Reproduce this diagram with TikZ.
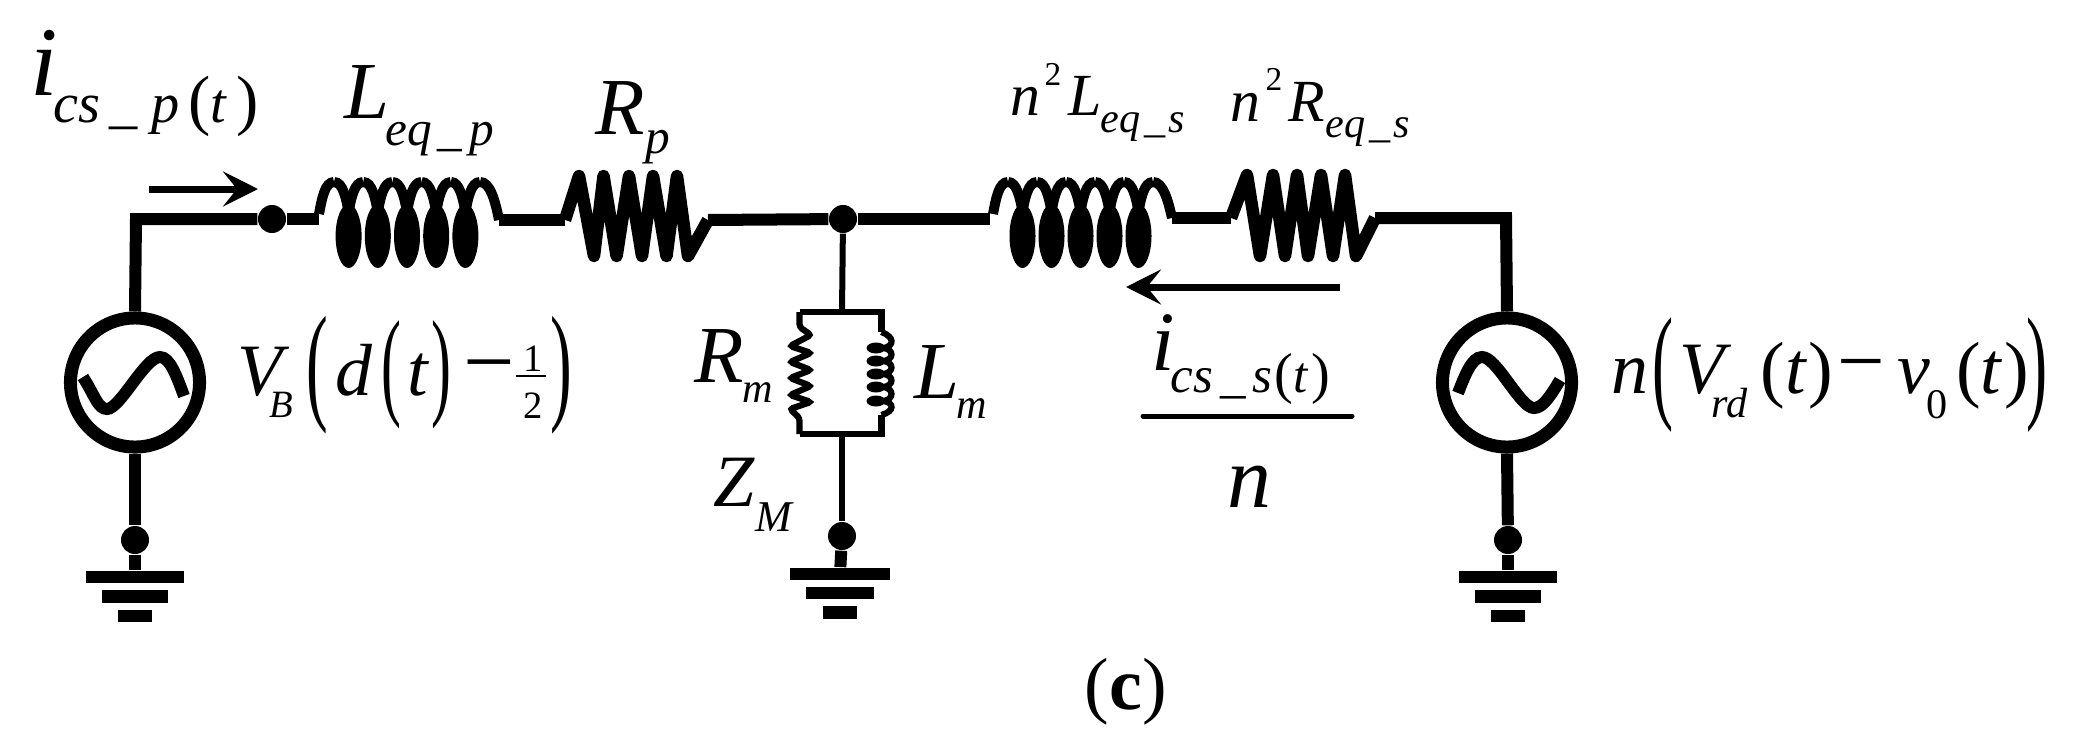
\documentclass[tikz,border=0pt]{standalone}
\usepackage{fontspec}
\setmainfont{Liberation Serif}
\usetikzlibrary{arrows.meta}
% text sizes are in pt, positions in reference pixels
\newcommand{\itsz}[2]{{\fontsize{#1}{#1}\selectfont\textit{#2}}}
\newcommand{\rmsz}[2]{{\fontsize{#1}{#1}\selectfont #2}}
\newcommand{\tallbr}[2]{\scalebox{.5}[1]{\fontsize{#1}{#1}\selectfont #2}}
\tikzset{
    wire/.style={line width=0.12cm,line join=miter},
    thinwire/.style={line width=0.06cm},
    legwire/.style={line width=0.062cm},
    coilline/.style={line width=0.1cm},
    zigline/.style={line width=0.125cm,line join=round},
    bar/.style={fill=black,draw=none,inner sep=0,minimum height=0.125cm},
    junction/.style={circle,fill=black,inner sep=0,minimum size=0.28cm},
    acsrc/.style={circle,draw,line width=0.13cm,inner sep=0,minimum size=1.29cm},
    sense/.style={line width=0.07cm,-{Stealth[length=0.35cm,width=0.35cm,inset=0.14cm]}},
    lab/.style={inner sep=0,anchor=base west},
    mid/.style={inner sep=0,anchor=center}
}
% horizontal coil: first hump, pitch, wire level
\newcommand{\hcoil}[3]{
    \foreach \k in {0,...,4}{
        \fill ({#1+#2*(\k+.5)},236) ellipse (13 and 32);
        \draw[coilline] ({#1+#2*\k},182) .. controls ({#1+#2*\k+9},182) and ({#1+#2*\k+12},198) .. ({#1+#2*\k+15},214);
    }
    \foreach \k in {0,...,5}{
        \draw[coilline] ({#1+#2*\k-15},214) .. controls ({#1+#2*\k-12},198) and ({#1+#2*\k-9},182) .. ({#1+#2*\k},182);
    }
    \draw[coilline] ({#1+#2*5},182) .. controls ({#1+#2*5+10},182) and ({#1+#2*5+15},200) .. ({#1+#2*5+19},#3);
}
% ground bars below a point
\newcommand{\gnd}[2]{
    \node[bar,minimum width=0.98cm] (#2a) at (#1,577) {};
    \node[bar,minimum width=0.66cm] (#2b) at (#1,596.5) {};
    \node[bar,minimum width=0.34cm] (#2c) at (#1,616) {};
}
\begin{document}
\begin{tikzpicture}[x=0.01cm,y=-0.01cm]
    \useasboundingbox (0,0) rectangle (2079,754);

    %Knuder
    \node[acsrc] (srcL) at (135,382.5) {};
    \node[acsrc] (srcR) at (1507,382.5) {};
    \node[junction] (nIn) at (272,219) {};
    \node[junction] (nMid) at (843,219) {};
    \node[junction] (nGndL) at (135,540) {};
    \node[junction] (nGndM) at (842,536) {};
    \node[junction] (nGndR) at (1508,540) {};
    \coordinate (cornerL) at (136,219);
    \coordinate (cornerR) at (1506,218);
    \coordinate (coilAin) at (319,219);
    \coordinate (coilAout) at (499,220);
    \coordinate (resAin) at (565,220);
    \coordinate (resAout) at (708,220);
    \coordinate (coilBin) at (990,219);
    \coordinate (coilBout) at (1172,218);
    \coordinate (resBin) at (1231,218);
    \coordinate (resBout) at (1375,218);
    \coordinate (boxTop) at (842,312);
    \coordinate (boxBot) at (842,434);
    \coordinate (boxTL) at (799.5,312);
    \coordinate (boxTR) at (881.5,312);
    \coordinate (boxBL) at (799.5,434);
    \coordinate (boxBR) at (881.5,434);

    %Ledninger
    \draw[wire] (srcL.north) -- (cornerL) -- (nIn);
    \draw[wire] (nIn) -- (coilAin);
    \draw[wire] (coilAout) -- (resAin);
    \draw[wire] (resAout) -- (nMid);
    \draw[wire] (nMid) -- (coilBin);
    \draw[wire] (coilBout) -- (resBin);
    \draw[wire] (resBout) -- (cornerR) -- (srcR.north);
    \draw[wire] (srcL.south) -- (nGndL);
    \draw[wire] (srcR.south) -- (nGndR);
    \draw[thinwire] (nMid) -- (boxTop);
    \draw[thinwire] (boxBot) -- (nGndM);

    %Jord
    \gnd{135}{gL}
    \gnd{1508}{gR}
    \node[bar,minimum width=1cm] (gMa) at (840,574) {};
    \node[bar,minimum width=0.67cm] (gMb) at (840,593) {};
    \node[bar,minimum width=0.34cm] (gMc) at (840,612.5) {};
    \draw[wire] (nGndL) -- (gLa);
    \draw[wire] (nGndR) -- (gRa);
    \draw[wire] (nGndM) -- (gMa);

    %Spoler og modstande
    \hcoil{334}{29.2}{220}
    \hcoil{1008}{29}{218}
    \draw[zigline] (resAin) -- (579,176) -- (594,256) -- (603.5,176) -- (616.6,256)
        -- (629,176) -- (642,256) -- (653,176) -- (666.5,256) -- (677,176) -- (688,256) -- (resAout);
    \draw[zigline] (resBin) -- (1247,175) -- (1260,256) -- (1273,175) -- (1285,256)
        -- (1297,175) -- (1308,256) -- (1321,175) -- (1333,256) -- (1345,175) -- (1356,256) -- (resBout);

    %Magnetisering
    \draw[legwire] (boxTL) -- (boxTR) -- (881.5,332);
    \draw[legwire] (boxBL) -- (boxBR) -- (881.5,415);
    \draw[legwire,rounded corners=0.03cm] (boxTL) -- (799.5,327) -- (811,335) -- (790,346) -- (811,353) -- (790,362)
        -- (811,370) -- (790,378) -- (811,386) -- (790,395) -- (811,402) -- (790,409) -- (799.5,418) -- (boxBL);
    \foreach \yy in {348,361,374,387,401}{
        \fill (876,\yy) ellipse (9.5 and 5.5);
    }
    \draw[legwire] (881.5,332) .. controls (895,337) and (894,346) .. (884,348)
        .. controls (894,350) and (894,359) .. (884,361)
        .. controls (894,363) and (894,372) .. (884,374)
        .. controls (894,376) and (894,385) .. (884,387)
        .. controls (894,389) and (894,399) .. (884,401)
        .. controls (894,403) and (895,411) .. (881.5,415);

    %Kilder
    \draw[line width=0.12cm] (83,377) .. controls (95,396) and (98,409) .. (107,409)
        .. controls (120,409) and (145,357) .. (160,357) .. controls (170,357) and (177,377) .. (184,396);
    \draw[line width=0.12cm] (1458,393) .. controls (1465,375) and (1472,357) .. (1482,357)
        .. controls (1497,357) and (1520,408) .. (1534,408) .. controls (1543,408) and (1551,395) .. (1560,380);

    %Strompile
    \coordinate (arrAs) at (149,189);
    \coordinate (arrAe) at (258,189);
    \coordinate (arrBs) at (1340,287);
    \coordinate (arrBe) at (1126,287);
    \draw[sense] (arrAs) -- (arrAe);
    \draw[sense] (arrBs) -- (arrBe);
    \coordinate (fracA) at (1143,416);
    \coordinate (fracB) at (1352,416);
    \draw[line width=0.05cm,line cap=round] (fracA) -- (fracB);

    %Tekst
    \node[lab] (tI) at (30,95) {\itsz{28}{i}};
    \node[lab] (tIs) at (53,122) {\itsz{16}{cs\hspace{2.5pt}\_\hspace{4pt}p}\hspace{2.5pt}\rmsz{19}{(}\itsz{16}{t}\hspace{2.5pt}\rmsz{19}{)}};
    \node[lab] (tL) at (344,118) {\itsz{23}{L}};
    \node[lab] (tLs) at (385,145) {\itsz{14}{eq\hspace{1.4pt}\_\hspace{2.2pt}p}};
    \node[lab] (tR) at (595,134) {\itsz{23}{R}};
    \node[lab] (tRs) at (645,153) {\itsz{14}{p}};

    \node[lab] (tN) at (1010,115) {\itsz{17}{n}};
    \node[lab] (tNs) at (1044,85) {\rmsz{9.5}{2}};
    \node[lab] (tLb) at (1068,115) {\itsz{17}{L}};
    \node[lab] (tLbs) at (1100,132) {\itsz{12}{eq\hspace{1pt}\_\hspace{1pt}s}};
    \node[lab] (tN2) at (1230,121) {\itsz{17}{n}};
    \node[lab] (tN2s) at (1265,90) {\rmsz{9.5}{2}};
    \node[lab] (tRb) at (1288,121) {\itsz{17}{R}};
    \node[lab] (tRbs) at (1325,137) {\itsz{12}{eq\hspace{1pt}\_\hspace{1pt}s}};

    \node[lab] (tV) at (237,395) {\itsz{21}{V}\hspace{-5.8pt}\raisebox{-6.5pt}{\itsz{11}{B}}};
    \node[mid] (tPa) at (317,375) {\tallbr{37}{(}};
    \node[lab] (tD) at (335,395) {\itsz{21}{d}};
    \node[mid] (tPb) at (391,375) {\tallbr{34}{(}};
    \node[lab] (tT) at (407,395) {\itsz{21}{t}};
    \node[mid] (tPc) at (441,375) {\tallbr{34}{)}};
    \node[mid] (tMin) at (489,376) {\rmsz{26}{−}};
    \node[lab] (tOne) at (523,371) {\rmsz{11}{1}};
    \coordinate (halfA) at (516,376);
    \coordinate (halfB) at (546,376);
    \draw[line width=0.025cm] (halfA) -- (halfB);
    \node[lab] (tTwo) at (523,418) {\rmsz{11}{2}};
    \node[mid] (tPd) at (561,375) {\tallbr{37}{)}};

    \node[lab] (tRm) at (694,382) {\itsz{23}{R}};
    \node[lab] (tRms) at (742,402) {\itsz{12}{m}};
    \node[lab] (tLm) at (914,398) {\itsz{23}{L}};
    \node[lab] (tLms) at (956,418) {\itsz{12}{m}};
    \node[lab] (tZ) at (713,506) {\itsz{21}{Z}};
    \node[lab] (tZs) at (755,531) {\itsz{12.5}{M}};

    \node[lab] (tIb) at (1151,370) {\itsz{24}{i}};
    \node[lab] (tIbs) at (1170,392) {\itsz{14.5}{cs\hspace{2pt}\_\hspace{2pt}s}\hspace{.5pt}\rmsz{16}{(}\itsz{14.5}{t}\hspace{1pt}\rmsz{16}{)}};
    \node[lab] (tNn) at (1227,507) {\itsz{25}{n}};

    \node[lab] (tNr) at (1611,393) {\itsz{21}{n}};
    \node[mid] (tQa) at (1663,375) {\tallbr{36}{(}};
    \node[lab] (tVr) at (1679,393) {\itsz{21}{V}\hspace{-5.7pt}\raisebox{-7.1pt}{\itsz{12}{rd}}};
    \node[lab] (tQb) at (1760,393) {\rmsz{21}{(}};
    \node[lab] (tTr) at (1785,393) {\itsz{21}{t}};
    \node[lab] (tQc) at (1808,393) {\rmsz{21}{)}};
    \node[mid] (tMr) at (1861,374) {\rmsz{24}{−}};
    \node[lab] (tVo) at (1897,393) {\itsz{21}{v}};
    \node[lab] (tVos) at (1926,418) {\rmsz{12}{0}};
    \node[lab] (tQd) at (1956,393) {\rmsz{21}{(}};
    \node[lab] (tTs) at (1980,393) {\itsz{21}{t}};
    \node[lab] (tQe) at (2004,393) {\rmsz{21}{)}};
    \node[mid] (tQf) at (2037,375) {\tallbr{36}{)}};

    \node[lab] (tC) at (1084,709) {\rmsz{21}{(\textbf{c})}};
\end{tikzpicture}
\end{document}
